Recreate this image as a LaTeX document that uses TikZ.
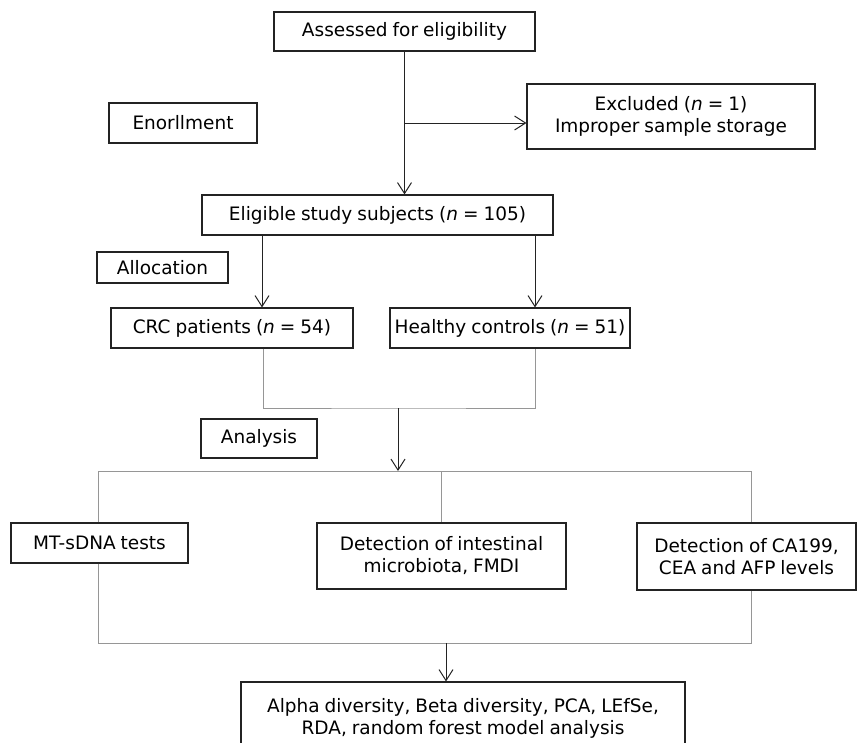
\documentclass[tikz,border=0pt]{standalone}
\usepackage{fontspec}
\setmainfont{DejaVu Sans}[WordSpace=0.85]
\usepackage{xcolor}
\usepackage{tikz}
\usetikzlibrary{arrows.meta, positioning, calc}
\definecolor{framegray}{RGB}{35, 35, 35}
\definecolor{linkgray}{RGB}{150, 150, 150}

\begin{document}
\begin{tikzpicture}[
  x=1pt, y=-1pt,
  every node/.style={font=\fontsize{18.5}{22}\selectfont},
  box/.style={draw=framegray, line width=1.1pt, align=center, inner sep=0pt, minimum height=40pt},
  arrow/.style={-{Straight Barb[length=11pt, width=14pt]}, line width=1pt, color=framegray},
  link/.style={line width=0.9pt, color=linkgray}
]
  \clip (0,0) rectangle (858,742);

  \node[box, minimum width=261pt, minimum height=39pt] (assess) at (404.5, 31.5) {Assessed for eligibility};
  \node[box, minimum width=288pt, minimum height=65pt] (excl) at (671, 116.5) {Excluded (\textit{n} = 1)\\ Improper sample storage};
  \node[box, minimum width=148pt] (enrol) at (183, 123) {Enorllment};

  % Allocation
  \node[box, minimum width=351pt] (elig) at (377.5, 215) {Eligible study subjects (\textit{n} = 105)};
  \node[box, minimum width=131pt, minimum height=31pt] (alloc) at (162.5, 267.5) {Allocation};
  \node[box, minimum width=242pt] (crc) at (232, 328) {CRC patients (\textit{n} = 54)};
  \node[box, minimum width=240pt] (hc) at (510, 328) {Healthy controls (\textit{n} = 51)};

  % Analysis
  \node[box, minimum width=116pt, minimum height=39pt] (anal) at (259, 438.5) {Analysis};
  \node[box, minimum width=177pt] (mt) at (99.5, 543) {MT-sDNA tests};
  \node[box, minimum width=249pt, minimum height=66pt] (micro) at (441.5, 556) {Detection of intestinal\\ microbiota, FMDI};
  \node[box, minimum width=219pt, minimum height=67pt] (tumor) at (746.5, 556.5) {Detection of CA199,\\ CEA and AFP levels};
  \node[box, minimum width=444pt, minimum height=72pt] (out) at (463, 718) {Alpha diversity, Beta diversity, PCA, LEfSe,\\ RDA, random forest model analysis};

  \coordinate (split) at (404.5, 123);
  \coordinate (merge) at (398, 408);
  \coordinate (fork) at (398, 471);
  \coordinate (gather) at (446, 643);

  \draw[arrow] (assess.south) -- (assess.south |- elig.north);
  \draw[arrow] (split) -- (split -| excl.west);
  \draw[arrow] (elig.south -| 262,0) -- (crc.north -| 262,0);
  \draw[arrow] (elig.south -| 535,0) -- (hc.north -| 535,0);

  \draw[link] (crc.south -| 263,0) |- (merge) -| (hc.south -| 535,0);
  \draw[arrow] (merge) -- (fork);
  \draw[link] (mt.north -| 98,0) |- (fork) -| (tumor.north -| 751,0);
  \draw[link] (micro.north |- fork) -- (micro.north);

  \draw[link] (mt.south -| 98,0) |- (gather) -| (tumor.south -| 751,0);
  \draw[arrow] (gather) -- (gather |- out.north);

\end{tikzpicture}
\end{document}
